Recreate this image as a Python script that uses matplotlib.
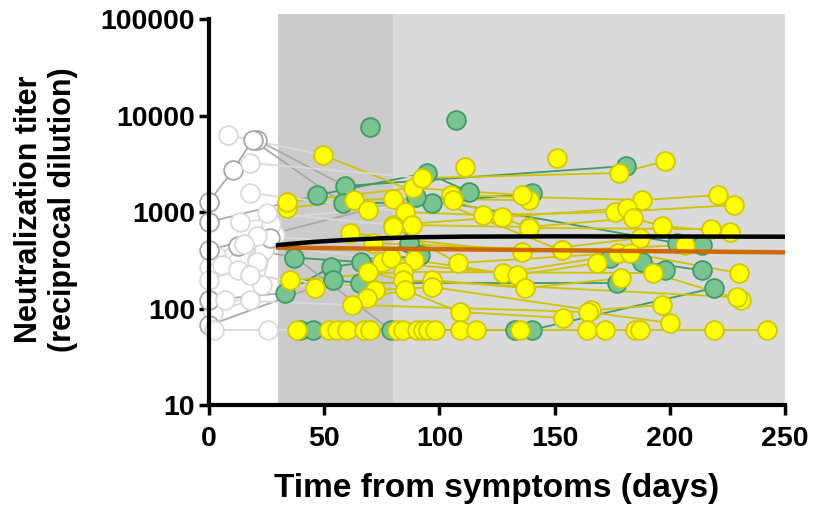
import matplotlib.pyplot as plt

plt.rcParams['font.family'] = ['Liberation Sans', 'DejaVu Sans']
plt.rcParams['font.weight'] = 'bold'

# patients with first visits in the green group (days, titers)
green_days = [
    [21, 59, 181],
    [0, 10.4, 19, 58, 97, 140],
    [0, 47, 94.6, 113],
    [12.6, 37, 66, 87],
    [0, 33, 53, 91.6],
    [0, 54, 65.5, 177],
    [39.5, 45],
    [26.5, 79, 133, 140, 219],
    [0, 90, 203, 214],
    [188, 214],
    [107],
    [70],
    [174, 198],
]
green_titers = [
    [5570, 1860, 3000],
    [1270, 2720, 5570, 1240, 1250, 1570],
    [787, 1500, 2540, 1610],
    [443, 337, 303, 477],
    [122, 145, 270, 358],
    [67, 197, 184, 184],
    [60, 60],
    [535, 60, 60, 60, 163],
    [404, 1430, 477, 455],
    [303, 250],
    [8970],
    [7600],
    [333, 250],
]

yellow_days = [
    [8.2, 49.5, 153],
    [34, 63, 80, 139],
    [5.6, 34, 88.6, 136],
    [18, 92.5, 178, 198],
    [111],
    [151],
    [69, 105, 188, 221],
    [18, 85, 119, 176, 228],
    [25, 80, 127, 181.5],
    [88, 139, 184, 196.6, 226],
    [13.5, 106, 139, 218],
    [61, 136, 187],
    [21, 71, 153, 206.6],
    [80, 108, 177.5],
    [75, 127.6, 182.7, 230],
    [15, 79, 89, 133.6, 168.4],
    [35, 84, 192.7, 231],
    [12.6, 46, 97, 137, 179],
    [69, 84, 229],
    [18, 72, 97, 166, 196.6],
    [68.5, 85, 109, 153.6],
    [7, 62, 164.5, 200],
    [2, 38, 52, 55.5],
    [25.6, 60, 67.5, 70, 81.5, 84],
    [90.5, 93, 95, 98, 109],
    [116, 135, 164, 172, 185, 187, 219, 242],
]
yellow_titers = [
    [6280, 3900, 400],
    [1100, 1330, 1370, 1330],
    [283, 1270, 1780, 1500],
    [3220, 2250, 2540, 3370],
    [2920],
    [3630],
    [1050, 1500, 1330, 1500],
    [1570, 1000, 930, 1000, 1180],
    [977, 733, 885, 1100],
    [733, 700, 866, 716, 620],
    [787, 1330, 685, 665],
    [600, 385, 537],
    [564, 477, 400, 455],
    [700, 296, 376],
    [303, 233, 376, 233],
    [466, 330, 317, 222, 296],
    [197, 240, 233, 123],
    [250, 163, 197, 163, 206],
    [239, 197, 131],
    [222, 155, 167, 96, 109],
    [128, 155, 92, 80],
    [122, 109, 92, 71],
    [60, 60, 60, 60],
    [60, 60, 60, 60, 60, 60],
    [60, 60, 60, 60, 60],
    [60, 60, 60, 60, 60, 60, 60, 60],
]

# early-only visits (white circles)
early_days = [[1.7, 18], [0, 23, 28.6], [21, 24], [0, 21], [3, 27]]
early_titers = [[90, 122], [269, 174, 580], [317, 404], [197, 300], [350, 760]]

fit_black_days = [30, 45, 60, 75, 90, 110, 150, 200, 250]
fit_black_titers = [455, 490, 515, 535, 548, 556, 560, 558, 555]
fit_orange_days = [30, 250]
fit_orange_titers = [427, 382]

cutoff = 30

fig = plt.figure(figsize=(8.13, 5.09), dpi=100)
ax = fig.add_axes([0.257, 0.2043, 0.7086, 0.7677])

ax.axvspan(30, 80, color='#cbcbcb', zorder=0, lw=0)
ax.axvspan(80, 250, color='#dadada', zorder=0, lw=0)


def draw_patient(days, titers, face, edge, lc, early_edge, early_lc):
    for i in range(len(days) - 1):
        c = early_lc if days[i] < cutoff else lc
        ax.plot(days[i:i + 2], titers[i:i + 2], color=c, lw=1.3, zorder=1.5,
                solid_capstyle='butt')
    for d, t in zip(days, titers):
        if d < cutoff:
            ax.plot(d, t, 'o', ms=13.5, mfc='white', mec=early_edge, mew=1.3,
                    zorder=1.8, clip_on=False)
        else:
            ax.plot(d, t, 'o', ms=13.5, mfc=face, mec=edge, mew=1.3,
                    zorder=2, clip_on=False)


for d, t in zip(early_days, early_titers):
    draw_patient(d, t, 'white', '#d9d9d9', '#d9d9d9', '#d9d9d9', '#d9d9d9')
for d, t in zip(green_days, green_titers):
    draw_patient(d, t, '#78c592', '#3f9a68', '#3f9a68', '#a6a6a6', '#a9a9a9')
for d, t in zip(yellow_days, yellow_titers):
    draw_patient(d, t, '#ffff00', '#d2c800', '#cfc400', '#d9d9d9', '#d9d9d9')

ax.plot(fit_black_days, fit_black_titers, color='black', lw=3.2, zorder=2.3)
ax.plot(fit_orange_days, fit_orange_titers, color='#cc6a00', lw=3.2, zorder=2.2)

ax.set_yscale('log')
ax.set_xlim(0, 250)
ax.set_ylim(10, 10 ** 5.05)
ax.set_xticks([0, 50, 100, 150, 200, 250])
ax.set_yticks([10, 100, 1000, 10000, 100000])
ax.set_yticklabels(['10', '100', '1000', '10000', '100000'])
ax.minorticks_off()
ax.tick_params(axis='both', width=2.5, length=7, labelsize=20.5)
ax.tick_params(axis='x', pad=8)
ax.tick_params(axis='y', pad=3)

for s in ['top', 'right']:
    ax.spines[s].set_visible(False)
for s in ['left', 'bottom']:
    ax.spines[s].set_linewidth(3)
ax.spines['left'].set_bounds(10, 100000)

ax.set_xlabel('Time from symptoms (days)', fontsize=24, fontweight='bold', labelpad=15)
ax.set_ylabel('Neutralization titer\n(reciprocal dilution)', fontsize=22,
              fontweight='bold', labelpad=16)

fig.savefig('out.png', dpi=100)
